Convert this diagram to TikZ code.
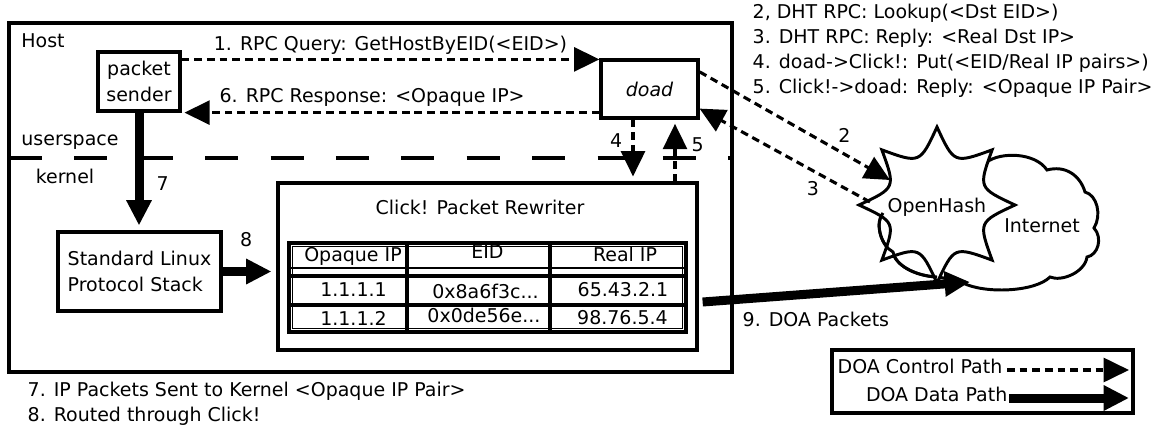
\documentclass[tikz,border=0pt]{standalone}
\usepackage{fontspec}
\setmainfont{DejaVu Sans}
\usetikzlibrary{arrows.meta, calc}

\begin{document}
\begin{tikzpicture}[x = 0.025cm, y = -0.025cm, > = {Triangle[length=18pt, width=17pt]},
	font = \fontsize{13.5}{18}\selectfont,
	box/.style = {draw, line width = 2.3pt, fill = white, inner sep = 0},
	ctrl/.style = {->, line width = 2.2pt, dash pattern = on 5.5pt off 3.5pt},
	data/.style = {->, line width = 6.4pt},
	lbl/.style = {inner sep = 1pt, text height = 0.76em, text depth = 0.24em},
	cloudline/.style = {draw, line width = 2.1pt, fill = white}]

	% Definition

	\def\px{0.025cm}	% One picture unit

	\useasboundingbox (0, 0) rectangle (1153, 429);

	% Host frame, split into userspace and kernel

	\node [box, minimum width = 723 * \px, minimum height = 349 * \px] (host) at (370.5, 197.5) {};
	\draw [line width = 2.8pt, dash pattern = on 23.5pt off 23pt] (9, 158) -- (732, 158);

	\node [lbl] (host-lbl) at (43, 44) {Host};
	\node [lbl] (user-lbl) at (70, 142) {userspace};
	\node [lbl] (kern-lbl) at (65, 180) {kernel};

	% Components

	\node [box, minimum width = 82 * \px, minimum height = 59 * \px, align = center] (sender) at (139, 81.5) {packet\\sender};
	\node [box, minimum width = 97 * \px, minimum height = 58 * \px, font = \fontsize{13.5}{18}\selectfont\itshape] (doad) at (649.5, 89) {doad};
	\node [box, minimum width = 163 * \px, minimum height = 79 * \px, align = left] (stack) at (139.5, 271.5) {Standard Linux\\Protocol Stack};
	\node [box, minimum width = 419 * \px, minimum height = 167 * \px] (click) at (487.5, 266.5) {};
	\node [lbl] (click-lbl) at (480, 211) {Click! Packet Rewriter};

	% Rewriter table

	\node [box, minimum width = 397 * \px, minimum height = 89 * \px] (table) at (487.5, 287.5) {};
	\draw [line width = 0.8pt] (292.5, 246.5) rectangle (682.5, 328.5);
	\draw [line width = 0.8pt] (289, 268) -- (686, 268);
	\draw [line width = 2.2pt] (289, 276) -- (686, 276);
	\draw [line width = 2.2pt] (289, 305) -- (686, 305);
	\foreach \x in {407, 550}
		\draw [line width = 2.2pt] (\x, 243) -- (\x, 332);

	\node [lbl] (hd-opq) at (353, 258) {Opaque IP};
	\node [lbl] (hd-eid) at (487.5, 255) {EID};
	\node [lbl] (hd-real) at (625, 258) {Real IP};

	\node [lbl] (opq1) at (353.5, 293) {1.1.1.1};
	\node [lbl] (eid1) at (485.5, 295) {0x8a6f3c...};
	\node [lbl] (real1) at (623, 293) {65.43.2.1};
	\node [lbl] (opq2) at (353.5, 322) {1.1.1.2};
	\node [lbl] (eid2) at (484, 319) {0x0de56e...};
	\node [lbl] (real2) at (622.5, 321) {98.76.5.4};

	% Internet cloud with the OpenHash burst in front

	\draw [cloudline] (987, 162) .. controls (1000, 152) and (1035, 152) .. (1047, 170)
		.. controls (1065, 165) and (1080, 175) .. (1085, 192)
		.. controls (1097, 195) and (1102, 215) .. (1094, 228)
		.. controls (1103, 238) and (1098, 255) .. (1087, 257)
		.. controls (1085, 272) and (1062, 282) .. (1050, 277)
		.. controls (1035, 292) and (985, 294) .. (963, 283)
		.. controls (955, 280) and (945, 278) .. (937, 277)
		.. controls (915, 276) and (895, 265) .. (893, 252)
		.. controls (880, 245) and (875, 222) .. (883, 213)
		.. controls (890, 170) and (950, 150) .. cycle;

	\coordinate (oh-c) at (937, 205);
	\foreach \i in {0, ..., 7}
		\coordinate (oh\i) at ($(oh-c) + (\i * 45 : 78)$);
	\draw [cloudline] (oh0) \foreach \i/\j in {0/1, 1/2, 2/3, 3/4, 4/5, 5/6, 6/7, 7/0}
		{ .. controls ($(oh\i)!0.5!(oh\j)!0.38!(oh-c)$) .. (oh\j) } -- cycle;
	\draw [line width = 2.1pt] (883, 213) .. controls (875, 222) and (880, 245) .. (893, 252)
		.. controls (895, 265) and (915, 276) .. (937, 277);

	\node [lbl] (ohash) at (937, 209) {OpenHash};
	\node [lbl] (inet) at (1042, 229) {Internet};

	% Control path (RPCs)

	\draw [ctrl] ($(sender.north east) + (0, 9)$) -- node [lbl, above = 2pt] (n1) {1. RPC Query: GetHostByEID(<EID>)} ($(doad.north west) + (0, 1)$);
	\draw [ctrl, shorten > = 2pt] ($(doad.south west) + (0, -7)$) -- node [lbl, pos = 0.544, above = 2.5pt] (n6) {6. RPC Response: <Opaque IP>} (sender.south east);

	\coordinate (d4) at ($(doad.south) + (-16.5, 0)$);
	\coordinate (d5) at ($(click.north) + (187.5, 0)$);
	\draw [ctrl, shorten > = 3.5pt] (d4) -- node [lbl, pos = 0.385, left = 5.5pt] (n4) {4} (d4 |- click.north);
	\draw [ctrl, shorten > = 3pt] (d5) -- node [lbl, pos = 0.55, right = 9.8pt] (n5) {5} (d5 |- doad.south);

	\coordinate (oh-in) at (890, 180);
	\coordinate (oh-out) at (870, 202);
	\draw [ctrl] ($(doad.north east)!0.22!(doad.south east)$) -- node [lbl, pos = 0.76, above = 3.9pt] (n2) {2} (oh-in);
	\draw [ctrl] (oh-out) -- node [lbl, pos = 0.335, below = 7.8pt] (n3) {3} ($(doad.north east)!0.82!(doad.south east)$);

	% Data path

	\draw [data, shorten > = 3.5pt] (sender.south) -- node [lbl, pos = 0.63, right = 8.4pt] (n7) {7} (sender.south |- stack.north);
	\draw [data, shorten > = 3.5pt] (stack.east) -- node [lbl, pos = 0.44, above = 11.3pt] (n8) {8} (stack.east -| click.west);

	\coordinate (inet-in) at (970, 282);
	\draw [data] ($(click.east) + (4, 35.5)$) -- (inet-in);
	\node [lbl, anchor = west] (n9) at (741, 323) {9. DOA Packets};

	% Legend

	\node [box, minimum width = 301 * \px, minimum height = 63 * \px] (legend) at (982.5, 381.5) {};
	\node [lbl, anchor = east] (lg-ctrl) at (1004, 370) {DOA Control Path};
	\node [lbl, anchor = east] (lg-data) at (1009, 398) {DOA Data Path};
	\coordinate (lg-ctrl-end) at (1129, 370);
	\coordinate (lg-data-end) at (1129, 398);
	\draw [ctrl] ($(lg-ctrl.east) + (3, 0)$) -- (lg-ctrl-end);
	\draw [data] (lg-data.east) -- (lg-data-end);

	% Step descriptions

	\foreach \t [count = \i] in {{2, DHT RPC: Lookup(<Dst EID>)}, {3. DHT RPC: Reply: <Real Dst IP>},
		{4. doad->Click!: Put(<EID/Real IP pairs>)}, {5. Click!->doad: Reply: <Opaque IP Pair>}}
		\node [lbl, anchor = west] (step\i) at (751, 25 * \i - 10) {\t};

	\node [lbl, anchor = west] (note7) at (26, 393) {7. IP Packets Sent to Kernel <Opaque IP Pair>};
	\node [lbl, anchor = west] (note8) at (26, 418) {8. Routed through Click!};

\end{tikzpicture}
\end{document}
